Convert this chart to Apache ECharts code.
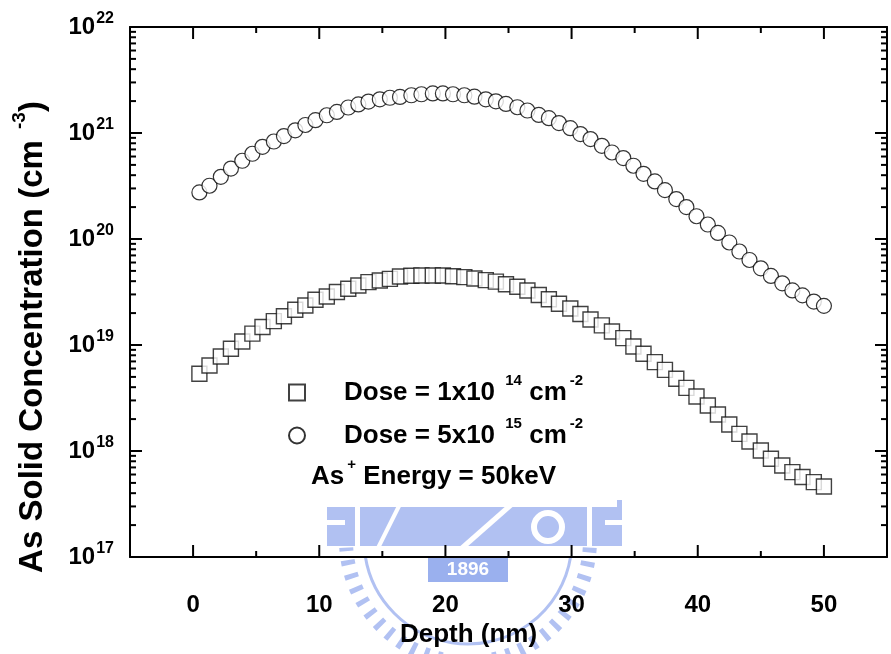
<!DOCTYPE html>
<html><head><meta charset="utf-8">
<script src="https://cdn.jsdelivr.net/npm/echarts@6/dist/echarts.min.js"></script>
<style>html,body{margin:0;padding:0;background:#fff}#c{width:891px;height:654px}</style>
</head><body><div id="c"></div>
<script>
// ---- data ----
const depth = [0.5,1.3,2.2,3.0,3.9,4.7,5.5,6.4,7.2,8.1,8.9,9.7,10.6,11.4,12.3,13.1,13.9,14.8,15.6,16.4,
  17.3,18.1,19.0,19.8,20.6,21.5,22.3,23.2,24.0,24.8,25.7,26.5,27.4,28.2,29.0,29.9,30.7,31.5,32.4,33.2,
  34.1,34.9,35.7,36.6,37.4,38.3,39.1,39.9,40.8,41.6,42.5,43.3,44.1,45.0,45.8,46.7,47.5,48.3,49.2,50.0];
const dose1e14 = [5.35e18,6.41e18,7.79e18,9.21e18,1.08e19,1.28e19,1.48e19,1.68e19,1.87e19,2.15e19,
  2.36e19,2.67e19,2.87e19,3.16e19,3.39e19,3.64e19,3.92e19,4.06e19,4.21e19,4.43e19,
  4.50e19,4.53e19,4.53e19,4.53e19,4.45e19,4.37e19,4.24e19,4.09e19,3.96e19,3.74e19,
  3.54e19,3.27e19,2.96e19,2.70e19,2.45e19,2.21e19,1.96e19,1.74e19,1.53e19,1.34e19,
  1.16e19,9.68e18,8.26e18,6.90e18,5.83e18,4.80e18,3.94e18,3.27e18,2.69e18,2.21e18,
  1.78e18,1.45e18,1.23e18,1.01e18,8.44e17,7.30e17,6.32e17,5.68e17,5.09e17,4.63e17];
const dose5e15 = [2.75e20,3.18e20,3.86e20,4.62e20,5.47e20,6.37e20,7.41e20,8.31e20,9.35e20,1.06e21,
  1.19e21,1.32e21,1.47e21,1.58e21,1.74e21,1.86e21,1.98e21,2.08e21,2.15e21,2.19e21,
  2.27e21,2.32e21,2.36e21,2.36e21,2.32e21,2.27e21,2.20e21,2.08e21,1.99e21,1.88e21,
  1.75e21,1.63e21,1.48e21,1.38e21,1.24e21,1.11e21,9.77e20,8.76e20,7.57e20,6.55e20,
  5.80e20,4.91e20,4.12e20,3.49e20,2.89e20,2.38e20,2.00e20,1.64e20,1.37e20,1.14e20,
  9.27e19,7.62e19,6.34e19,5.29e19,4.48e19,3.82e19,3.27e19,2.94e19,2.57e19,2.34e19];
const xTickLabels = [0,10,20,30,40,50];
const xMinorTicks = [5,15,25,35,45];
const yTickExponents = [17,18,19,20,21,22];
const yMinorMantissas = [2,3,4,5,6,7,8,9];
const xTitle = 'Depth (nm)';
const yTitleParts = ['As Solid Concentration (cm', '-3', ')'];
const legend1 = ['Dose = 1x10 ', '14', ' cm', '-2'];
const legend2 = ['Dose = 5x10 ', '15', ' cm', '-2'];
const energyText = ['As', '+', ' Energy = 50keV'];
const watermarkText = '1896';

// ---- chart ----
const FONT = "'Liberation Sans', Arial, sans-serif";
const X_MIN = -5, X_MAX = 55, Y_MIN = 1e17, Y_MAX = 1e22;
const yMajor = yTickExponents.map(e => Number('1e' + e));
const yMinor = [];
yTickExponents.slice(0, -1).forEach(e => yMinorMantissas.forEach(m => yMinor.push(Number(m + 'e' + e))));

// inward frame ticks on all four sides, placed through the axes' own scales
// item: [x, y, major(1)/minor(0), side(0 bottom, 1 top, 2 left, 3 right)]
const tickItems = [];
[0, 1].forEach(side => {
  xTickLabels.forEach(v => tickItems.push([v, Y_MIN, 1, side]));
  xMinorTicks.forEach(v => tickItems.push([v, Y_MIN, 0, side]));
});
[2, 3].forEach(side => {
  yMajor.forEach(v => tickItems.push([X_MIN, v, 1, side]));
  yMinor.forEach(v => tickItems.push([X_MIN, v, 0, side]));
});
const MAJOR_LEN = 12, MINOR_LEN = 6;

const lineStyle = {color: '#000', width: 2};
function frameAxis(kind, pos) {
  const a = {
    type: kind === 'x' ? 'value' : 'log', position: pos, gridIndex: 0,
    min: kind === 'x' ? X_MIN : Y_MIN, max: kind === 'x' ? X_MAX : Y_MAX,
    axisLine: {show: true, onZero: false, lineStyle: lineStyle},
    axisTick: {show: false}, axisLabel: {show: false}, splitLine: {show: false}
  };
  if (kind === 'y') a.logBase = 10;
  return a;
}

const txt = {fontFamily: FONT, fontWeight: 'bold', color: '#000'};
const legendRich = {
  g: {width: 34},
  t: Object.assign({fontSize: 26, lineHeight: 30}, txt),
  s: Object.assign({fontSize: 15, lineHeight: 15, padding: [0, 0, 24, 3]}, txt)
};
function legendFmt(parts) {
  return '{g|}{t|' + parts[0] + '}{s|' + parts[1] + '}{t|' + parts[2] + '}{s|' + parts[3] + '}';
}

// faint emblem watermark behind the plot (decorative)
const WM = '#b1c1f2', WZ = -10;
const watermark = [
  {type: 'rect', z: WZ, shape: {x: 327, y: 500, width: 295, height: 46}, style: {fill: WM}},
  {type: 'rect', z: WZ, shape: {x: 355, y: 500, width: 5, height: 50}, style: {fill: '#fff'}},
  {type: 'rect', z: WZ, shape: {x: 587, y: 500, width: 5, height: 50}, style: {fill: '#fff'}},
  {type: 'rect', z: WZ, shape: {x: 327, y: 520, width: 18, height: 5}, style: {fill: '#fff'}},
  {type: 'rect', z: WZ, shape: {x: 605, y: 520, width: 17, height: 5}, style: {fill: '#fff'}},
  {type: 'line', z: WZ, shape: {x1: 462, y1: 548, x2: 512, y2: 504}, style: {stroke: '#fff', lineWidth: 5}},
  {type: 'line', z: WZ, shape: {x1: 378, y1: 548, x2: 400, y2: 504}, style: {stroke: '#fff', lineWidth: 4}},
  {type: 'circle', z: WZ, shape: {cx: 548, cy: 527, r: 14}, style: {fill: 'none', stroke: '#fff', lineWidth: 6}},
  {type: 'arc', z: WZ, shape: {cx: 468, cy: 540, r: 122, startAngle: Math.PI * 0.02, endAngle: Math.PI * 0.98},
    style: {fill: 'none', stroke: WM, lineWidth: 14, lineDash: [5, 9]}},
  {type: 'arc', z: WZ, shape: {cx: 468, cy: 540, r: 104, startAngle: Math.PI * 0.05, endAngle: Math.PI * 0.95},
    style: {fill: 'none', stroke: WM, lineWidth: 3}},
  {type: 'rect', z: WZ, shape: {x: 428, y: 558, width: 80, height: 24}, style: {fill: '#9ab0ee'}},
  {type: 'text', z: WZ, x: 468, y: 570, style: {text: watermarkText, fill: '#fff', align: 'center',
    verticalAlign: 'middle', font: 'bold 19px ' + FONT}}
];

const chart = echarts.init(document.getElementById('c'), null, {renderer: 'canvas'});
chart.setOption({
  backgroundColor: '#fff',
  animation: false,
  grid: {left: 130, top: 27, width: 757, height: 530, outerBoundsMode: 'none'},
  xAxis: [
    Object.assign(frameAxis('x', 'bottom'), {
      axisLabel: {show: true, customValues: xTickLabels, margin: 36,
        fontFamily: FONT, fontWeight: 'bold', fontSize: 24, color: '#000'},
      name: xTitle, nameLocation: 'middle', nameGap: 60,
      nameTextStyle: Object.assign({fontSize: 26, padding: [0, 80, 0, 0]}, txt)
    }),
    frameAxis('x', 'top')
  ],
  yAxis: [
    Object.assign(frameAxis('y', 'left'), {
      axisLabel: {
        show: true, customValues: yMajor, margin: 16,
        formatter: v => '{b|10}{s|' + Math.round(Math.log10(v)) + '}',
        rich: {
          b: {fontFamily: FONT, fontWeight: 'bold', fontSize: 24, color: '#000'},
          s: {fontFamily: FONT, fontWeight: 'bold', fontSize: 16, color: '#000', padding: [0, 0, 16, 1]}
        }
      }
    }),
    frameAxis('y', 'right')
  ],
  legend: [
    {data: ['d14'], left: 288, top: 373, padding: 0, itemWidth: 16, itemHeight: 16,
      formatter: () => legendFmt(legend1), textStyle: {rich: legendRich}},
    {data: ['d15'], left: 288, top: 416, padding: 0, itemWidth: 16, itemHeight: 16,
      formatter: () => legendFmt(legend2), textStyle: {rich: legendRich}}
  ],
  graphic: watermark.concat([
    {type: 'rect', z: -5, shape: {x: 280, y: 356, width: 337, height: 151}, style: {fill: '#fff'}},
    {type: 'text', x: 311, y: 477, style: {
      text: '{t|' + energyText[0] + '}{s|' + energyText[1] + '}{t|' + energyText[2] + '}',
      verticalAlign: 'middle', rich: legendRich}},
    {type: 'text', x: 33, y: 337, rotation: Math.PI / 2, style: {
      text: '{t|' + yTitleParts[0] + ' }{s|' + yTitleParts[1] + '}{t|' + yTitleParts[2] + '}',
      align: 'center', verticalAlign: 'middle',
      rich: {
        t: Object.assign({fontSize: 33, lineHeight: 36}, txt),
        s: Object.assign({fontSize: 19, lineHeight: 19, padding: [0, 0, 26, 2]}, txt)
      }}}
  ]),
  series: [
    {name: 'frameTicks', type: 'custom', xAxisIndex: 0, yAxisIndex: 0, silent: true, clip: false, z: 3,
      data: tickItems,
      renderItem: (params, api) => {
        const major = api.value(2) === 1, side = api.value(3);
        const len = major ? MAJOR_LEN : MINOR_LEN;
        let p, q;
        if (side === 0) { p = api.coord([api.value(0), Y_MIN]); q = [p[0], p[1] - len]; }
        else if (side === 1) { p = api.coord([api.value(0), Y_MAX]); q = [p[0], p[1] + len]; }
        else if (side === 2) { p = api.coord([X_MIN, api.value(1)]); q = [p[0] + len, p[1]]; }
        else { p = api.coord([X_MAX, api.value(1)]); q = [p[0] - len, p[1]]; }
        return {type: 'line', shape: {x1: p[0], y1: p[1], x2: q[0], y2: q[1]},
          style: {stroke: '#000', lineWidth: 2}};
      }},
    {name: 'd14', type: 'scatter', symbol: 'rect', symbolSize: 15, xAxisIndex: 0, yAxisIndex: 0,
      data: depth.map((d, i) => [d, dose1e14[i]]),
      itemStyle: {color: '#fff', borderColor: '#111', borderWidth: 1.4}},
    {name: 'd15', type: 'scatter', symbol: 'circle', symbolSize: 15, xAxisIndex: 0, yAxisIndex: 0,
      data: depth.map((d, i) => [d, dose5e15[i]]),
      itemStyle: {color: '#fff', borderColor: '#000', borderWidth: 1.2}}
  ]
});
</script></body></html>
